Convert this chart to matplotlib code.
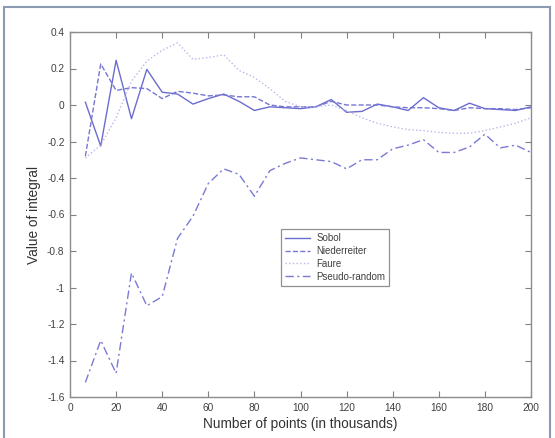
import matplotlib
matplotlib.use("Agg")
import matplotlib.pyplot as plt
from matplotlib.patches import Rectangle
from matplotlib.ticker import FuncFormatter

plt.rcParams['font.family'] = ['Liberation Sans', 'DejaVu Sans']
plt.rcParams['axes.unicode_minus'] = False

# sample sizes, in thousands
n_points = [6.67, 13.33, 20, 26.67, 33.33, 40, 46.67, 53.33, 60, 66.67,
            73.33, 80, 86.67, 93.33, 100, 106.67, 113.33, 120, 126.67, 133.33,
            140, 146.67, 153.33, 160, 166.67, 173.33, 180, 186.67, 193.33, 200]

sobol = [0.015, -0.225, 0.245, -0.075, 0.195, 0.07, 0.06, 0.005, 0.035, 0.06,
         0.02, -0.03, -0.01, -0.015, -0.02, -0.01, 0.03, -0.04, -0.035, 0.005,
         -0.01, -0.03, 0.04, -0.015, -0.03, 0.01, -0.02, -0.025, -0.03, -0.01]

niederreiter = [-0.28, 0.225, 0.08, 0.095, 0.09, 0.035, 0.075, 0.065, 0.05, 0.055,
                0.045, 0.045, 0.0, -0.01, -0.01, -0.01, 0.02, 0.0, 0.0, 0.0,
                -0.01, -0.015, -0.015, -0.02, -0.03, -0.015, -0.02, -0.02, -0.025, -0.015]

faure = [-0.29, -0.22, -0.07, 0.13, 0.24, 0.30, 0.34, 0.25, 0.26, 0.275,
         0.19, 0.15, 0.09, 0.02, -0.01, -0.01, 0.0, -0.03, -0.07, -0.10,
         -0.12, -0.135, -0.14, -0.15, -0.155, -0.155, -0.14, -0.12, -0.10, -0.07]

pseudo_random = [-1.52, -1.29, -1.47, -0.92, -1.10, -1.05, -0.73, -0.61, -0.43, -0.35,
                 -0.38, -0.50, -0.36, -0.32, -0.29, -0.30, -0.31, -0.35, -0.30, -0.30,
                 -0.24, -0.22, -0.19, -0.26, -0.26, -0.23, -0.16, -0.235, -0.22, -0.26]

fig = plt.figure(figsize=(5.55, 4.38), dpi=100)
ax = fig.add_axes([70/555, 1 - 397/438, 461/555, 365/438])

ax.plot(n_points, sobol, '-', color='#6c6cd0', lw=1.0, label='Sobol')
ax.plot(n_points, niederreiter, '--', color='#7676d4', lw=1.0, label='Niederreiter')
ax.plot(n_points, faure, ':', color='#b8b8ea', lw=1.0, label='Faure')
ax.plot(n_points, pseudo_random, '-.', color='#7a7ad6', lw=1.0,
        dashes=(6, 2.5, 1.5, 2.5), label='Pseudo-random')

ax.set_xlim(0, 200)
ax.set_ylim(-1.6, 0.4)
ax.set_xticks(range(0, 201, 20))
ax.set_yticks([-1.6, -1.4, -1.2, -1.0, -0.8, -0.6, -0.4, -0.2, 0, 0.2, 0.4])
ax.yaxis.set_major_formatter(FuncFormatter(lambda v, p: '%g' % round(v, 1)))
ax.tick_params(direction='in', top=True, right=True, length=4, width=0.8,
               color='#808080', labelsize=7.3, labelcolor='#404040', pad=4)
for s in ax.spines.values():
    s.set_color('#8c8c8c')
    s.set_linewidth(1.0)

ax.set_xlabel('Number of points (in thousands)', fontsize=9.8, color='#333333', labelpad=3)
ax.set_ylabel('Value of integral', fontsize=9.8, color='#333333', labelpad=4)

leg = ax.legend(loc='upper left', bbox_to_anchor=(0.458, 0.460), borderaxespad=0,
                fontsize=7, fancybox=False, edgecolor='#909090', framealpha=1,
                handlelength=2.6, labelspacing=0.3, borderpad=0.4, handletextpad=0.6)
for t in leg.get_texts():
    t.set_color('#404040')
leg.get_frame().set_linewidth(0.9)

# outer frame of the picture
fig.patches.append(Rectangle((4/555, -0.05), 546/555, 1.05 - 7/438,
                             transform=fig.transFigure, fill=False,
                             edgecolor='#8a9ab0', lw=1.5))

fig.savefig('out.png', dpi=100)
